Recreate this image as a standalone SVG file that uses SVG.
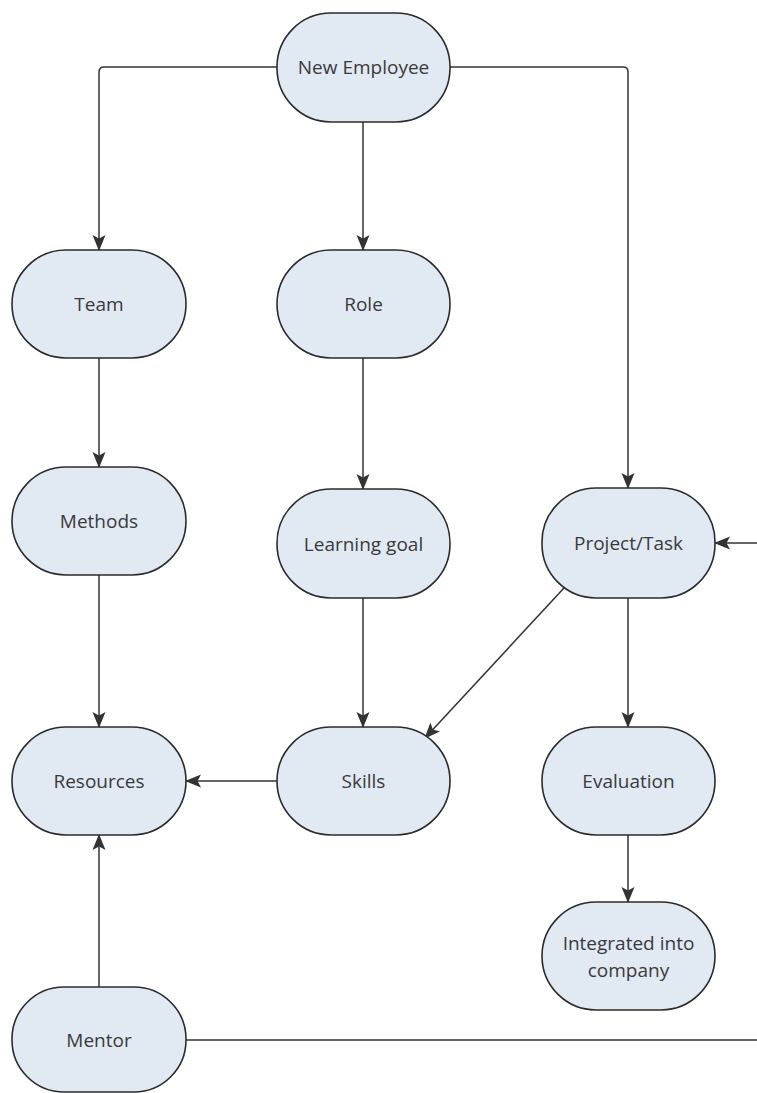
<svg xmlns="http://www.w3.org/2000/svg" width="757" height="1093" viewBox="0 0 757 1093">
  <style>
    .node rect { fill: #e1e9f2; stroke: #2b2b2b; stroke-width: 1.6; }
    .node text { font-family: "Open Sans", "Noto Sans", sans-serif; font-size: 19px; fill: #3a3a3a; text-anchor: middle; dominant-baseline: central; }
    .edge { fill: none; stroke: #333333; stroke-width: 1.5; }
    .arrow { marker-end: url(#arrow); }
  </style>
  <defs>
    <marker id="arrow" viewBox="0 0 16 16" refX="15" refY="8" markerWidth="16" markerHeight="16" markerUnits="userSpaceOnUse" orient="auto">
      <path d="M0,1.5 L16,8 L0,14.5 L3.5,8 Z" fill="#333333"/>
    </marker>
  </defs>
  <rect width="757" height="1093" fill="#ffffff"/>

  <g id="connectors">
    <path class="edge arrow" d="M277,67 H104 Q99,67 99,72 V250"/>
    <path class="edge arrow" d="M450,67 H623 Q628,67 628,72 V488"/>
    <path class="edge arrow" d="M363,122 V250"/>
    <path class="edge arrow" d="M99,358 V467"/>
    <path class="edge arrow" d="M99,575 V727"/>
    <path class="edge arrow" d="M363,358 V489"/>
    <path class="edge arrow" d="M363,598 V727"/>
    <path class="edge arrow" d="M564,588 L425,738"/>
    <path class="edge arrow" d="M277,781 H186"/>
    <path class="edge arrow" d="M628,598 V727"/>
    <path class="edge arrow" d="M628,835 V902"/>
    <path class="edge arrow" d="M99,987 V835"/>
    <path class="edge" d="M186,1040 H757"/>
    <path class="edge arrow" d="M757,543 H715"/>
  </g>

  <g id="new-employee" class="node">
    <rect x="277" y="13" width="173" height="109" rx="54" ry="54"/>
    <text x="363.5" y="67">New Employee</text>
  </g>
  <g id="team" class="node">
    <rect x="12" y="250" width="174" height="108" rx="54" ry="54"/>
    <text x="99" y="304">Team</text>
  </g>
  <g id="role" class="node">
    <rect x="277" y="250" width="173" height="108" rx="54" ry="54"/>
    <text x="363.5" y="304">Role</text>
  </g>
  <g id="methods" class="node">
    <rect x="12" y="467" width="174" height="108" rx="54" ry="54"/>
    <text x="99" y="521">Methods</text>
  </g>
  <g id="learning-goal" class="node">
    <rect x="277" y="489" width="173" height="109" rx="54" ry="54"/>
    <text x="363.5" y="544">Learning goal</text>
  </g>
  <g id="project-task" class="node">
    <rect x="542" y="488" width="173" height="110" rx="54" ry="54"/>
    <text x="628.5" y="543">Project/Task</text>
  </g>
  <g id="resources" class="node">
    <rect x="12" y="727" width="174" height="108" rx="54" ry="54"/>
    <text x="99" y="781">Resources</text>
  </g>
  <g id="skills" class="node">
    <rect x="277" y="727" width="173" height="108" rx="54" ry="54"/>
    <text x="363.5" y="781">Skills</text>
  </g>
  <g id="evaluation" class="node">
    <rect x="542" y="727" width="173" height="108" rx="54" ry="54"/>
    <text x="628.5" y="781">Evaluation</text>
  </g>
  <g id="integrated" class="node">
    <rect x="542" y="902" width="173" height="108" rx="54" ry="54"/>
    <text x="628.5" y="943">Integrated into</text>
    <text x="628.5" y="970">company</text>
  </g>
  <g id="mentor" class="node">
    <rect x="12" y="987" width="174" height="105" rx="52" ry="52"/>
    <text x="99" y="1040">Mentor</text>
  </g>
</svg>
